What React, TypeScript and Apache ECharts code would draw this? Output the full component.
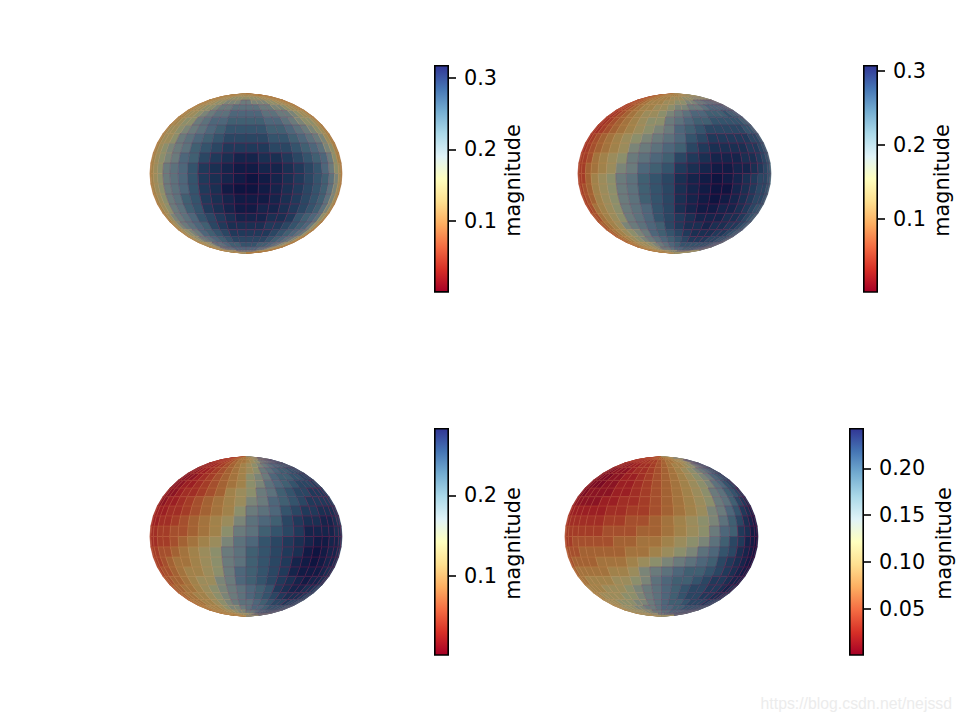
import React, { useEffect, useRef } from "react";
import * as echarts from "echarts";

const panel1Levels = [
  [7,7,7,8,8,8,8,8,8,8,8,8,8,8,8,8,8,8,8,8,8,7,7,7],
  [7,7,8,8,8,8,8,8,9,9,9,9,9,9,9,9,8,8,8,8,8,8,7,7],
  [7,8,8,8,8,9,9,9,10,10,10,10,10,10,10,10,9,9,9,8,8,8,8,7],
  [7,8,8,8,9,9,10,10,11,11,11,12,12,11,11,11,10,10,9,9,8,8,8,7],
  [7,8,8,9,9,10,10,11,12,12,13,13,13,13,12,12,11,11,10,9,9,8,8,7],
  [7,8,8,9,9,10,11,12,13,13,14,14,14,14,13,13,12,12,11,10,9,9,8,7],
  [7,8,8,9,10,10,12,13,14,14,15,15,15,15,14,14,13,12,11,10,10,9,8,7],
  [7,8,9,9,10,11,12,13,14,15,16,16,16,16,15,15,14,13,12,11,10,9,8,7],
  [7,8,9,9,10,12,13,14,15,16,17,17,17,17,16,16,15,14,13,12,11,9,8,7],
  [7,8,9,10,11,12,13,15,16,17,18,18,18,18,17,17,16,15,14,13,11,10,8,7],
  [7,8,9,10,11,12,14,15,17,18,19,20,20,19,19,18,17,16,15,14,12,10,8,7],
  [7,8,9,10,12,13,14,16,18,19,20,21,21,20,20,19,18,17,16,14,12,10,9,7],
  [7,8,9,10,12,13,14,16,18,19,20,21,22,21,20,19,18,17,16,15,13,11,9,7],
  [7,8,9,10,12,13,14,16,18,19,21,22,22,21,20,19,18,17,16,15,13,11,9,7],
  [7,8,9,10,12,13,15,16,18,19,20,21,21,21,20,19,18,17,16,15,13,11,9,7],
  [7,8,9,10,12,13,15,16,18,19,20,21,21,20,20,19,18,17,16,15,13,11,9,7],
  [7,8,9,11,12,13,14,16,17,18,19,20,20,20,19,19,18,16,15,14,13,10,9,7],
  [7,8,9,11,12,13,14,15,17,18,19,19,19,19,18,18,17,16,15,14,12,10,8,7],
  [8,8,9,10,11,12,14,15,16,17,18,18,18,18,18,17,16,15,14,13,12,10,8,7],
  [8,8,9,10,11,12,13,14,15,16,17,17,17,17,17,16,15,14,13,12,11,9,8,7],
  [8,8,9,9,10,11,13,13,14,15,15,16,16,16,15,15,14,13,12,11,10,9,8,7],
  [8,8,8,9,10,11,12,13,13,14,14,14,14,14,14,13,13,12,11,10,9,8,8,7],
  [8,8,8,9,9,10,10,11,11,12,12,12,12,12,12,12,11,11,10,9,9,8,8,7],
  [8,8,8,8,9,9,9,10,10,10,10,10,10,10,10,10,10,9,9,8,8,8,8,7],
];
const panel2Levels = [
  [5,5,6,6,6,7,7,7,7,8,8,8,8,8,8,8,9,9,9,9,9,9,9,9],
  [5,5,5,6,6,7,7,7,8,8,8,8,8,8,9,9,9,9,10,10,10,10,10,10],
  [4,4,5,5,6,6,7,7,8,8,8,9,9,9,10,10,10,11,11,11,11,11,11,11],
  [3,4,4,5,5,6,7,8,8,8,9,9,10,10,11,11,12,12,13,13,13,13,12,12],
  [3,3,4,4,5,6,7,8,8,9,9,10,11,11,12,12,13,14,14,14,14,14,13,13],
  [3,3,3,4,5,6,7,8,9,9,10,11,12,13,14,14,15,15,15,16,15,15,14,14],
  [3,3,3,4,5,6,7,8,9,10,10,12,13,14,15,15,16,16,16,16,16,15,15,14],
  [3,3,3,4,5,6,7,8,9,10,11,12,14,15,16,17,17,17,17,17,16,16,15,14],
  [3,3,4,5,6,7,8,9,10,11,12,13,14,16,17,18,18,18,18,18,17,17,16,15],
  [3,3,4,5,6,7,8,9,11,12,13,14,15,17,18,19,19,19,19,18,18,17,16,15],
  [3,4,4,5,7,8,9,10,12,13,14,15,17,18,19,20,20,20,19,19,18,17,16,15],
  [3,4,4,6,7,8,9,11,12,14,15,16,18,19,20,21,21,20,20,19,18,17,16,15],
  [3,4,4,6,8,9,10,12,13,15,16,17,19,20,21,22,21,20,19,18,17,17,16,15],
  [3,4,5,6,8,9,10,12,13,15,16,17,19,20,21,22,22,20,19,18,17,17,16,15],
  [4,4,5,6,8,9,10,12,13,15,16,17,19,20,21,22,21,20,19,18,17,17,16,15],
  [4,4,5,7,8,9,10,12,13,14,16,17,19,20,21,21,20,20,19,18,17,16,16,15],
  [4,5,5,7,8,9,10,12,13,14,16,17,18,19,20,20,20,19,19,18,17,16,15,15],
  [4,5,6,7,8,9,11,12,13,14,15,17,18,19,19,20,19,19,18,18,17,16,15,14],
  [5,5,6,7,8,9,10,11,12,14,15,16,17,18,19,19,19,18,18,17,16,15,15,14],
  [5,6,6,7,8,9,10,11,12,13,14,15,16,17,18,18,18,17,17,16,16,15,14,13],
  [6,6,7,7,8,9,9,10,11,12,13,14,15,16,16,16,16,16,16,15,14,14,13,13],
  [6,7,7,8,8,9,9,10,11,12,12,13,14,14,15,15,15,15,14,14,13,13,12,12],
  [7,7,7,8,8,8,9,9,10,10,11,11,11,12,12,12,12,12,12,11,11,11,11,10],
  [7,7,8,8,8,8,9,9,9,9,10,10,10,10,10,10,11,11,10,10,10,10,10,10],
];
const panel3Levels = [
  [3,3,3,4,4,5,5,5,6,6,7,7,7,8,8,8,9,9,10,10,10,10,11,11],
  [2,2,2,3,3,3,4,5,5,6,7,7,8,8,9,10,10,11,11,11,12,12,12,12],
  [1,1,2,2,2,3,3,4,5,6,7,7,8,9,10,11,12,12,13,13,14,14,14,14],
  [1,1,1,1,2,2,3,4,5,6,7,8,9,10,11,12,13,14,14,15,15,15,15,15],
  [0,0,1,1,2,2,3,4,5,6,7,8,9,10,12,13,14,15,15,16,16,16,16,16],
  [0,0,0,1,1,2,3,4,5,6,7,8,10,11,12,14,15,15,16,16,17,17,17,17],
  [0,0,1,1,2,2,3,4,5,6,7,8,10,11,13,14,15,16,17,17,17,18,17,17],
  [1,1,1,1,2,3,3,4,5,6,8,9,10,12,13,15,16,17,17,18,18,18,18,17],
  [1,1,1,2,2,3,4,5,6,7,8,9,11,12,14,15,16,17,18,18,18,18,18,17],
  [2,2,2,2,3,3,4,5,6,7,8,10,12,13,14,16,17,18,18,19,19,19,18,18],
  [2,2,2,3,3,4,5,6,7,8,9,11,13,14,15,17,18,19,19,20,20,19,18,18],
  [3,3,3,4,4,5,5,6,7,8,10,12,13,15,16,17,18,20,20,20,20,19,19,18],
  [3,3,3,4,4,5,6,7,8,9,11,13,14,16,17,18,19,20,21,21,20,20,19,18],
  [3,4,4,5,5,6,7,8,9,10,12,13,15,16,17,18,19,21,22,21,20,20,19,18],
  [3,4,4,5,6,7,7,8,9,10,12,13,15,16,17,18,20,21,22,21,20,20,19,18],
  [4,4,5,5,6,7,8,8,9,10,12,14,15,16,17,18,20,21,21,21,20,19,19,18],
  [4,5,5,6,6,7,8,9,9,11,12,14,15,16,17,18,19,20,21,20,20,19,18,18],
  [5,5,6,6,7,7,8,9,10,11,12,13,14,15,16,18,19,20,20,19,19,18,17,17],
  [5,6,6,7,7,8,8,9,10,11,12,13,14,15,16,17,18,19,19,19,18,17,17,16],
  [6,6,7,7,7,8,8,9,10,11,12,13,13,14,15,16,17,17,18,17,17,16,16,15],
  [7,7,7,7,8,8,8,9,10,11,11,12,13,14,14,15,16,16,16,16,15,15,15,14],
  [7,7,7,8,8,8,8,9,9,10,11,11,12,12,13,14,14,15,15,15,14,14,14,13],
  [7,7,8,8,8,8,8,8,9,9,10,10,10,11,11,12,12,13,13,13,13,12,12,12],
  [7,7,8,8,8,8,8,8,8,8,9,9,9,9,10,10,11,11,11,11,11,11,11,11],
];
const panel4Levels = [
  [4,4,4,4,4,4,4,5,5,5,6,6,6,7,7,7,8,8,8,9,9,9,10,10],
  [3,3,3,3,3,3,3,4,4,5,5,6,6,7,7,8,8,9,9,10,10,11,11,11],
  [2,2,2,2,2,2,2,3,3,4,4,5,6,7,7,8,9,9,10,11,12,12,13,13],
  [1,1,1,1,1,1,2,2,3,3,4,5,6,7,8,8,9,10,11,12,13,14,14,14],
  [0,0,0,0,1,1,1,2,3,3,4,5,6,7,8,9,10,11,12,13,14,15,15,16],
  [0,0,0,0,0,1,1,2,2,3,4,5,6,7,8,9,10,11,12,14,15,16,16,17],
  [0,0,0,0,0,1,1,2,2,3,4,5,6,7,8,9,10,11,13,14,16,17,17,18],
  [0,0,0,1,1,1,1,2,2,3,4,5,6,7,8,9,10,12,13,15,16,17,18,18],
  [1,1,1,1,1,1,2,2,3,3,4,5,6,7,8,9,10,12,13,15,17,18,19,19],
  [2,2,2,2,2,2,2,3,3,4,4,5,6,7,8,9,11,12,14,16,18,19,20,20],
  [3,3,3,3,3,3,3,4,4,5,5,6,7,8,9,10,11,13,15,17,19,20,21,21],
  [4,4,4,4,4,4,4,5,5,5,6,6,7,8,9,10,12,14,15,18,19,21,21,22],
  [4,4,4,5,5,5,5,5,6,6,7,7,8,9,10,11,13,15,17,18,20,21,22,22],
  [5,5,5,5,6,6,6,6,6,7,7,8,9,10,11,13,14,16,17,19,20,21,22,22],
  [5,5,6,6,6,6,7,7,7,8,9,10,11,12,13,14,15,17,18,19,20,21,22,21],
  [6,6,7,7,7,7,7,8,8,9,11,12,13,14,15,15,16,17,18,19,20,21,21,20],
  [7,7,7,8,8,8,8,9,9,10,11,13,14,15,15,16,17,18,18,19,20,20,20,20],
  [8,8,8,8,8,9,9,9,10,11,12,13,14,15,16,17,17,18,18,19,20,19,19,19],
  [8,8,8,9,9,9,9,10,10,11,12,13,14,15,16,17,17,18,18,19,19,18,18,17],
  [8,9,9,9,9,10,10,10,11,11,12,13,14,15,15,16,17,17,17,18,17,17,16,16],
  [8,9,9,9,10,10,10,11,11,12,12,13,14,14,15,15,16,16,16,16,16,15,15,15],
  [9,9,9,10,10,10,10,10,11,11,12,12,13,13,14,14,14,14,15,14,14,14,14,13],
  [9,9,9,10,10,10,10,10,11,11,11,12,12,13,13,13,13,14,14,14,13,13,13,13],
  [9,9,9,9,9,10,10,10,10,10,10,10,10,11,11,11,11,11,11,11,11,11,10,10],
];

const surfaceColors = [
  "#7a0a24","#8a1424","#9a1f24","#a02e26","#a33c28","#a44f2e","#a26234","#a2733e","#a0824b",
  "#9a8c5c","#8b8f6c","#7a8578","#6a7b7c","#5c727c","#4d677a","#406072","#34546c","#2a4763",
  "#203a5a","#1a3052","#15254b","#111c45","#0e1540",
];
const colorbarColors = [
  "#a50026","#d73027","#f46d43","#fdae61","#fee090","#ffffbf",
  "#e0f3f8","#abd9e9","#74add1","#4575b4","#313695",
];

const colorbarRanges = [
  [0.001, 0.318],
  [0.001, 0.308],
  [0.001, 0.284],
  [0.001, 0.243],
];
const colorbarTicks = [
  [0.1, 0.2, 0.3],
  [0.1, 0.2, 0.3],
  [0.1, 0.2],
  [0.05, 0.1, 0.15, 0.2],
];
const tickDecimals = [1, 1, 1, 2];
const colorbarLabel = "magnitude";
const watermark = "https://blog.csdn.net/nejssd";

const panels = [panel1Levels, panel2Levels, panel3Levels, panel4Levels];
const sphereBoxes = [
  { left: 150, top: 94, width: 192, height: 159 },
  { left: 578, top: 94, width: 193, height: 159 },
  { left: 150, top: 457, width: 192, height: 159 },
  { left: 565, top: 457, width: 193, height: 159 },
];
const barBoxes = [
  { left: 434, top: 65, width: 15, height: 227, gap: 53 },
  { left: 863, top: 65, width: 15, height: 227, gap: 53 },
  { left: 434, top: 428, width: 15, height: 227, gap: 53 },
  { left: 849, top: 428, width: 15, height: 227, gap: 69 },
];
const FONT = "DejaVu Sans";
const COLS = 24;
const ROWS = 24;

function renderCell(_params: any, api: any) {
  const col = api.value(0);
  const row = api.value(1);
  const level = api.value(2);
  const deg = Math.PI / 180;
  const lon0 = (-90 + (180 * col) / COLS) * deg;
  const lon1 = (-90 + (180 * (col + 1)) / COLS) * deg;
  const lat0 = (90 - (180 * row) / ROWS) * deg;
  const lat1 = (90 - (180 * (row + 1)) / ROWS) * deg;
  const pt = (lon: number, lat: number) =>
    api.coord([Math.sin(lon) * Math.cos(lat), Math.sin(lat)]);
  const fill = echarts.color.lerp(level / 22, surfaceColors) as string;
  const a = pt(lon0, lat0);
  const b = pt(lon1, lat0);
  const c = pt(lon1, lat1);
  const d = pt(lon0, lat1);
  const lineColor =
    level >= 18
      ? "rgba(170,25,75,0.5)"
      : level >= 12
      ? "rgba(170,25,75,0.24)"
      : "rgba(225,150,90,0.34)";
  return {
    type: "group",
    children: [
      {
        type: "polygon",
        shape: { points: [a, b, c, d] },
        style: { fill, stroke: fill, lineWidth: 0.6 },
      },
      {
        type: "polyline",
        shape: { points: [b, a, d] },
        style: { fill: "none", stroke: lineColor, lineWidth: 0.7 },
      },
    ],
  };
}

export default function App() {
  const ref = useRef<HTMLDivElement>(null);
  useEffect(() => {
    const chart = echarts.init(ref.current!, undefined, { renderer: "svg" });
    const grid: any[] = [];
    const xAxis: any[] = [];
    const yAxis: any[] = [];
    const series: any[] = [];
    panels.forEach((levels, p) => {
      grid.push({ ...sphereBoxes[p] });
      xAxis.push({ type: "value", gridIndex: grid.length - 1, min: -1, max: 1, show: false });
      yAxis.push({ type: "value", gridIndex: grid.length - 1, min: -1, max: 1, show: false });
      const data: number[][] = [];
      levels.forEach((r, row) => r.forEach((v, col) => data.push([col, row, v])));
      series.push({
        type: "custom",
        xAxisIndex: grid.length - 1,
        yAxisIndex: grid.length - 1,
        renderItem: renderCell,
        data,
        silent: true,
      });
    });
    panels.forEach((_, p) => {
      const { gap, ...box } = barBoxes[p];
      grid.push(box);
      const idx = grid.length - 1;
      const [lo, hi] = colorbarRanges[p];
      xAxis.push({ type: "category", gridIndex: idx, data: [colorbarLabel], show: false });
      yAxis.push({
        type: "value",
        gridIndex: idx,
        position: "right",
        min: lo,
        max: hi,
        scale: true,
        name: colorbarLabel,
        nameLocation: "middle",
        nameRotate: 90,
        nameGap: gap,
        nameTextStyle: { fontFamily: FONT, fontSize: 20.8, color: "#000", padding: [0, 4, 0, 0] },
        axisLine: { show: false },
        splitLine: { show: false },
        axisTick: {
          show: true,
          length: 7,
          inside: false,
          lineStyle: { color: "#000", width: 1.6 },
          customValues: colorbarTicks[p],
        },
        axisLabel: {
          show: true,
          margin: 15,
          color: "#000",
          fontFamily: FONT,
          fontSize: 20.8,
          customValues: colorbarTicks[p],
          formatter: (v: number) => v.toFixed(tickDecimals[p]),
        },
      });
      series.push({
        type: "bar",
        xAxisIndex: idx,
        yAxisIndex: idx,
        barWidth: "100%",
        silent: true,
        data: [hi],
        itemStyle: {
          borderColor: "#000",
          borderWidth: 1.6,
          color: {
            type: "linear",
            x: 0,
            y: 1,
            x2: 0,
            y2: 0,
            colorStops: colorbarColors.map((color, i) => ({
              offset: i / (colorbarColors.length - 1),
              color,
            })),
          },
        },
      });
    });
    chart.setOption({
      animation: false,
      backgroundColor: "#fff",
      grid,
      xAxis,
      yAxis,
      series,
      graphic: [
        {
          type: "text",
          right: 8,
          top: 695,
          style: {
            text: watermark,
            fill: "#ececec",
            fontFamily: "Liberation Sans",
            fontSize: 15.8,
          },
        },
      ],
    });
    return () => chart.dispose();
  }, []);
  return (
    <div
      ref={ref}
      style={{ position: "fixed", left: 0, top: 0, width: 960, height: 720 }}
    />
  );
}
